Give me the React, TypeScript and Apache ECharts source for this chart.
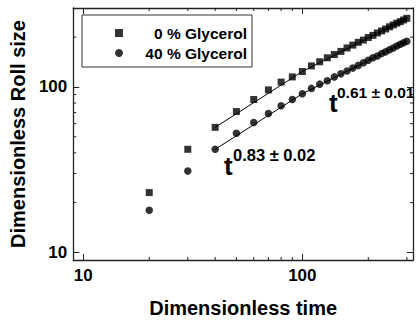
import React, { useEffect, useRef } from "react";
import * as echarts from "echarts";

const timeValues = [20, 30, 40, 50, 60, 70, 80, 90, 100, 110, 120, 130, 140, 150, 160, 170, 180, 190, 200, 210, 220, 230, 240, 250, 260, 270, 280, 290, 300];
const glycerol0 = [23, 42, 57, 71, 84, 96, 107, 115, 124, 134, 142, 150, 157, 164, 172, 179, 186, 192, 199, 205, 212, 218, 224, 231, 237, 243, 248, 254, 260];
const glycerol40 = [18, 31, 42, 52.5, 61, 69, 77, 84, 91, 98, 104, 109, 115, 120, 125, 130, 135, 140, 145, 150, 154, 159, 163, 168, 172, 177, 181, 185, 189];

const fitEarlyTime = [40, 100];
const fitEarly0 = [57, 124];
const fitEarly40 = [42, 91];
const fitLateTime = [100, 300];
const fitLate0 = [124, 260];
const fitLate40 = [91, 189];

const xMinorTicks = [20, 30, 40, 50, 60, 70, 80, 90, 200, 300];
const yMinorTicks = [20, 30, 40, 50, 60, 70, 80, 90, 200];
const majorLabels = [10, 100];

const seriesNames = ["0 % Glycerol", "40 % Glycerol"];

const FONT = "'Liberation Sans', Arial, Helvetica, sans-serif";
const AXIS_COLOR = "#222";

const zip = (xs: number[], ys: number[]) => xs.map((x, i) => [x, ys[i]]);

const labelFormatter = (v: number) => {
  for (const m of majorLabels) {
    if (Math.abs(v - m) < m * 0.001) return String(m);
  }
  return "";
};

export default function App() {
  const ref = useRef<HTMLDivElement>(null);

  useEffect(() => {
    document.body.style.margin = "0";
    if (!ref.current) return;
    const chart = echarts.init(ref.current, undefined, { renderer: "svg" });

    const baseAxis = {
      type: "log" as const,
      logBase: 10,
      axisLine: { show: true, onZero: false, lineStyle: { color: AXIS_COLOR, width: 1.3 } },
      axisTick: { show: true, inside: true, length: 6, lineStyle: { color: AXIS_COLOR, width: 1 } },
      splitLine: { show: false },
      minorTick: { show: false },
    };

    const tickRender = (dir: "x" | "y") => (params: any, api: any) => {
      const cs = params.coordSys;
      const len = 3;
      const style = { stroke: AXIS_COLOR, lineWidth: 1 };
      if (dir === "x") {
        const x = api.coord([api.value(0), api.value(1)])[0];
        return {
          type: "group",
          children: [
            { type: "line", shape: { x1: x, y1: cs.y + cs.height, x2: x, y2: cs.y + cs.height - len }, style },
            { type: "line", shape: { x1: x, y1: cs.y, x2: x, y2: cs.y + len }, style },
          ],
        };
      }
      const y = api.coord([api.value(0), api.value(1)])[1];
      return {
        type: "group",
        children: [
          { type: "line", shape: { x1: cs.x, y1: y, x2: cs.x + len, y2: y }, style },
          { type: "line", shape: { x1: cs.x + cs.width, y1: y, x2: cs.x + cs.width - len, y2: y }, style },
        ],
      };
    };

    const fitLine = (name: string, xs: number[], ys: number[]) => ({
      type: "line",
      name,
      data: zip(xs, ys),
      showSymbol: false,
      symbol: "none",
      silent: true,
      lineStyle: { color: "#000", width: 1 },
      z: 2,
    });

    chart.setOption({
      animation: false,
      backgroundColor: "#fff",
      grid: { left: 72, right: 5, top: 8, bottom: 60, containLabel: false },
      xAxis: [
        {
          ...baseAxis,
          position: "bottom",
          min: 9,
          max: 320,
          name: "Dimensionless time",
          nameLocation: "middle",
          nameGap: 38,
          nameTextStyle: { fontFamily: FONT, fontWeight: "bold", fontSize: 20, color: "#000" },
          axisLabel: { show: true, formatter: labelFormatter, margin: 7, fontFamily: FONT, fontWeight: "bold", fontSize: 17, color: "#000" },
        },
        {
          ...baseAxis,
          position: "top",
          min: 9,
          max: 320,
          axisLabel: { show: false },
        },
      ],
      yAxis: [
        {
          ...baseAxis,
          position: "left",
          min: 9,
          max: 300,
          name: "Dimensionless Roll size",
          nameLocation: "middle",
          nameGap: 38,
          nameTextStyle: { fontFamily: FONT, fontWeight: "bold", fontSize: 20, color: "#000" },
          axisLabel: { show: true, formatter: labelFormatter, margin: 6, fontFamily: FONT, fontWeight: "bold", fontSize: 17, color: "#000" },
        },
        {
          ...baseAxis,
          position: "right",
          min: 9,
          max: 300,
          axisLabel: { show: false },
        },
      ],
      legend: {
        orient: "vertical",
        left: 82,
        top: 15,
        padding: [10, 5, 6, 33],
        itemWidth: 8,
        itemHeight: 8,
        itemGap: 4,
        backgroundColor: "#fff",
        borderColor: "#333",
        borderWidth: 1,
        borderRadius: 0,
        selectedMode: false,
        formatter: (name: string) => `{a|${name}}`,
        textStyle: {
          width: 119,
          fontFamily: FONT,
          fontWeight: "bold",
          fontSize: 15.5,
          color: "#000",
          rich: { a: { align: "right", fontFamily: FONT, fontWeight: "bold", fontSize: 15.5, color: "#000", lineHeight: 16 } },
        },
        data: [
          { name: seriesNames[0], icon: "rect" },
          { name: seriesNames[1], icon: "circle" },
        ],
      },
      series: [
        fitLine("fit early 0", fitEarlyTime, fitEarly0),
        fitLine("fit late 0", fitLateTime, fitLate0),
        fitLine("fit early 40", fitEarlyTime, fitEarly40),
        fitLine("fit late 40", fitLateTime, fitLate40),
        {
          type: "scatter",
          name: seriesNames[0],
          data: zip(timeValues, glycerol0),
          symbol: "rect",
          symbolSize: 7,
          itemStyle: { color: "#000" },
          z: 3,
        },
        {
          type: "scatter",
          name: seriesNames[1],
          data: zip(timeValues, glycerol40),
          symbol: "circle",
          symbolSize: 7.5,
          itemStyle: { color: "#000" },
          z: 3,
        },
        {
          type: "custom",
          name: "x minor ticks",
          silent: true,
          clip: false,
          data: xMinorTicks.map((v) => [v, 10]),
          renderItem: tickRender("x"),
          z: 4,
        },
        {
          type: "custom",
          name: "y minor ticks",
          silent: true,
          clip: false,
          data: yMinorTicks.map((v) => [10, v]),
          renderItem: tickRender("y"),
          z: 4,
        },
      ],
      graphic: [
        { type: "text", x: 224, y: 166, z: 10, style: { text: "t", fontFamily: FONT, fontWeight: "bold", fontSize: 26, fill: "#000", align: "left", verticalAlign: "middle" } },
        { type: "text", x: 233, y: 155, z: 10, style: { text: "0.83 ± 0.02", fontFamily: FONT, fontWeight: "bold", fontSize: 16.5, fill: "#000", align: "left", verticalAlign: "middle" } },
        { type: "text", x: 329, y: 103, z: 10, style: { text: "t", fontFamily: FONT, fontWeight: "bold", fontSize: 26, fill: "#000", align: "left", verticalAlign: "middle" } },
        { type: "text", x: 337, y: 92, z: 10, style: { text: "0.61 ± 0.01", fontFamily: FONT, fontWeight: "bold", fontSize: 15.5, fill: "#000", align: "left", verticalAlign: "middle" } },
      ],
    });

    return () => chart.dispose();
  }, []);

  return <div ref={ref} style={{ width: 418, height: 323 }} />;
}
